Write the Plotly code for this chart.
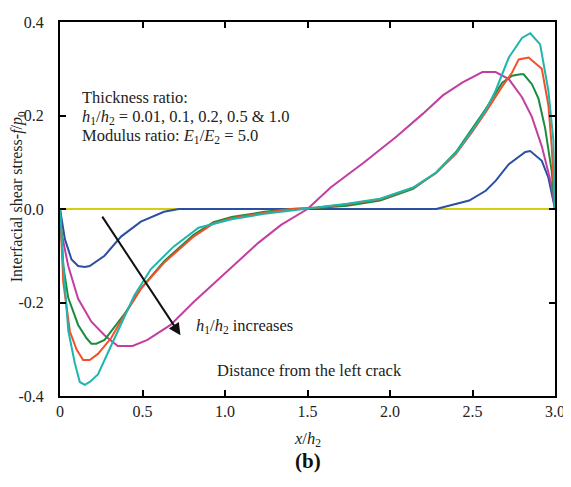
"""Interfacial shear stress along the interface, panel (b)."""

import plotly.graph_objects as go

# h1/h2 = 0.01 (blue)
blue_x = [0, 0.03, 0.07, 0.11, 0.15, 0.18, 0.27, 0.37, 0.49, 0.63, 0.72,
          2.28, 2.48, 2.58, 2.64, 2.72, 2.82, 2.85, 2.92, 2.96, 3.0]
blue_y = [0, -0.065, -0.108, -0.122, -0.124, -0.122, -0.10, -0.059, -0.027, -0.006, 0,
          0, 0.018, 0.039, 0.060, 0.096, 0.122, 0.124, 0.103, 0.067, 0]

# cyan
cyan_x = [0, 0.02, 0.05, 0.09, 0.12, 0.15, 0.18, 0.23, 0.30, 0.37, 0.45, 0.55, 0.69,
          0.84, 1.04, 1.24, 1.34, 1.45, 1.56, 1.74, 1.94, 2.14, 2.28, 2.40, 2.50,
          2.58, 2.64, 2.72, 2.80, 2.85, 2.91, 2.96, 2.99, 3.0]
cyan_y = [0, -0.12, -0.26, -0.33, -0.37, -0.376, -0.37, -0.354, -0.30, -0.248, -0.185,
          -0.129, -0.08, -0.04, -0.022, -0.01, -0.006, 0, 0.004, 0.011, 0.022, 0.046,
          0.078, 0.12, 0.169, 0.211, 0.253, 0.324, 0.366, 0.376, 0.352, 0.253, 0.148, 0]

# red
red_x = [0, 0.02, 0.06, 0.10, 0.14, 0.18, 0.23, 0.31, 0.39, 0.49, 0.63, 0.81, 0.93,
         1.04, 1.24, 1.40, 1.56, 1.74, 1.94, 2.14, 2.28, 2.40, 2.50, 2.58, 2.68,
         2.74, 2.78, 2.84, 2.92, 2.96, 2.98, 3.0]
red_y = [0, -0.157, -0.262, -0.30, -0.323, -0.323, -0.31, -0.276, -0.227, -0.171,
         -0.115, -0.059, -0.031, -0.02, -0.008, 0, 0.003, 0.010, 0.021, 0.045, 0.077,
         0.118, 0.166, 0.207, 0.262, 0.292, 0.32, 0.324, 0.30, 0.222, 0.134, 0]

# green
green_x = [0, 0.02, 0.05, 0.11, 0.16, 0.19, 0.22, 0.27, 0.34, 0.39, 0.49, 0.63, 0.81,
           0.93, 1.04, 1.24, 1.40, 1.56, 1.74, 1.94, 2.14, 2.28, 2.40, 2.50, 2.58,
           2.68, 2.74, 2.79, 2.81, 2.86, 2.90, 2.94, 2.98, 3.0]
green_y = [0, -0.122, -0.19, -0.248, -0.276, -0.288, -0.288, -0.28, -0.248, -0.225,
           -0.17, -0.112, -0.055, -0.028, -0.017, -0.006, 0, 0.002, 0.007, 0.018,
           0.043, 0.078, 0.122, 0.172, 0.214, 0.27, 0.285, 0.288, 0.288, 0.267,
           0.236, 0.173, 0.081, 0]

# magenta
mag_x = [0, 0.01, 0.05, 0.11, 0.19, 0.27, 0.35, 0.44, 0.53, 0.67, 0.81, 0.96, 1.08,
         1.20, 1.34, 1.50, 1.64, 1.84, 2.04, 2.20, 2.32, 2.44, 2.56, 2.64, 2.72,
         2.80, 2.86, 2.92, 2.98, 3.0]
mag_y = [0, -0.052, -0.122, -0.192, -0.241, -0.27, -0.293, -0.293, -0.28, -0.248,
         -0.199, -0.15, -0.112, -0.073, -0.034, 0, 0.046, 0.099, 0.155, 0.204, 0.243,
         0.271, 0.293, 0.293, 0.278, 0.239, 0.197, 0.134, 0.050, 0]

# zero line (yellow)
zero_x = [0, 3.0]
zero_y = [0, 0]

x_ticks = [0, 0.5, 1.0, 1.5, 2.0, 2.5, 3.0]
x_labels = ['0', '0.5', '1.0', '1.5', '2.0', '2.5', '3.0']
y_ticks = [-0.4, -0.2, 0.0, 0.2, 0.4]
y_labels = ['-0.4', '-0.2', '0.0', '0.2', '0.4']

FONT = 'Liberation Serif'

series = [
    (zero_x, zero_y, '#d6cc12'),
    (blue_x, blue_y, '#2b4fa3'),
    (mag_x, mag_y, '#c23fa0'),
    (green_x, green_y, '#1b8c3e'),
    (red_x, red_y, '#f2502a'),
    (cyan_x, cyan_y, '#1fb5ad'),
]

fig = go.Figure()
for xs, ys, color in series:
    fig.add_trace(go.Scatter(x=xs, y=ys, mode='lines',
                             line=dict(color=color, width=2), showlegend=False))

axis_style = dict(showline=True, linecolor='black', linewidth=2, mirror='ticks',
                  ticks='inside', ticklen=6, tickwidth=1.5, tickcolor='black',
                  showgrid=False, zeroline=False, ticklabeloverflow='allow',
                  tickfont=dict(family=FONT, size=16, color='#222'))

fig.update_xaxes(range=[0, 3.0], tickvals=x_ticks, ticktext=x_labels, **axis_style)
fig.update_yaxes(range=[-0.4, 0.4], tickvals=y_ticks, ticktext=y_labels,
                 ticklabelstandoff=11, **axis_style)

text_font = dict(family=FONT, size=16.5, color='#222')
notes = [
    (0.12, 0.238, 'Thickness ratio:'),
    (0.12, 0.197, '<i>h</i><sub>1</sub>/<i>h</i><sub>2</sub> = 0.01, 0.1, 0.2, 0.5 & 1.0'),
    (0.12, 0.157, 'Modulus ratio: <i>E</i><sub>1</sub>/<i>E</i><sub>2</sub> = 5.0'),
    (0.81, -0.251, '<i>h</i><sub>1</sub>/<i>h</i><sub>2</sub> increases'),
    (0.94, -0.346, 'Distance from the left crack'),
]
for nx, ny, txt in notes:
    fig.add_annotation(x=nx, y=ny, text=txt, showarrow=False, xanchor='left',
                       yanchor='middle', font=text_font)

# arrow showing h1/h2 increasing
fig.add_annotation(x=0.73, y=-0.27, ax=0.25, ay=-0.013, axref='x', ayref='y',
                   text='', showarrow=True, arrowhead=2, arrowsize=1.2,
                   arrowwidth=2, arrowcolor='#111')

fig.add_annotation(x=-0.087, xref='paper', y=0.534, yref='paper', textangle=-90,
                   xanchor='center', yanchor='middle',
                   text='Interfacial shear stress-<i>f</i>/<i>p</i><sub>0</sub>',
                   showarrow=False, font=dict(family=FONT, size=16, color='#222'))
fig.add_annotation(x=0.5, xref='paper', y=-0.115, yref='paper', yanchor='middle',
                   text='<i>x</i>/<i>h</i><sub>2</sub>', showarrow=False, font=text_font)
fig.add_annotation(x=0.5, xref='paper', y=-0.173, yref='paper', yanchor='middle',
                   text='<b>(b)</b>', showarrow=False,
                   font=dict(family=FONT, size=21, color='#111'))

# page body adds an 8px offset, so the figure is sized to fit the window
fig.update_layout(width=563, height=479, plot_bgcolor='white', paper_bgcolor='white',
                  margin=dict(l=52, r=9, t=6, b=91), showlegend=False)

fig.write_html("out.html")
